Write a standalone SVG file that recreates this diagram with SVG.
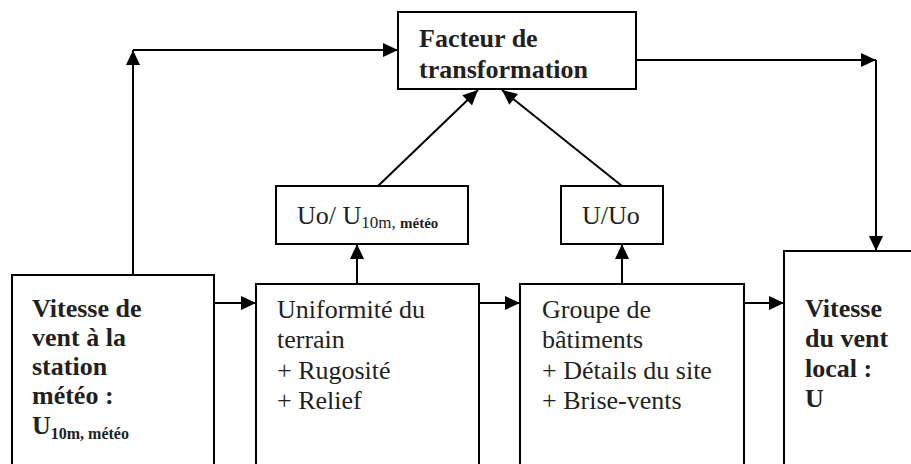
<svg xmlns="http://www.w3.org/2000/svg" width="911" height="464" viewBox="0 0 911 464">
<style>
.box{fill:#fff;stroke:#000;stroke-width:2}
.t{font-family:'Liberation Serif','Times New Roman',Times,'DejaVu Serif',serif;font-size:26px;fill:#231f20}
.b{font-weight:bold}
.c{fill:none;stroke:#000;stroke-width:2}
</style>
<defs>
<marker id="ah" viewBox="0 0 15 14" refX="15" refY="7" markerWidth="15" markerHeight="14" markerUnits="userSpaceOnUse" orient="auto">
<path d="M0,0 L15,7 L0,14 Z" fill="#000"/>
</marker>
</defs>
<g id="node-station">
<rect class="box" x="12" y="275" width="202" height="200"/>
<text class="t b" font-family="Liberation Serif, serif"><tspan x="32" y="317">Vitesse de</tspan><tspan x="32" y="346">vent à la</tspan><tspan x="32" y="375">station</tspan><tspan x="32" y="404">météo :</tspan><tspan x="32" y="434">U</tspan><tspan dy="5" font-size="16">10m, météo</tspan></text>
</g>
<g id="node-terrain">
<rect class="box" x="256" y="284" width="223" height="190"/>
<text class="t" font-family="Liberation Serif, serif"><tspan x="277" y="318">Uniformité du</tspan><tspan x="277" y="348">terrain</tspan><tspan x="277" y="379">+ Rugosité</tspan><tspan x="277" y="409">+ Relief</tspan></text>
</g>
<g id="node-batiments">
<rect class="box" x="520" y="284" width="224" height="190"/>
<text class="t" font-family="Liberation Serif, serif"><tspan x="542" y="318">Groupe de</tspan><tspan x="542" y="348">bâtiments</tspan><tspan x="542" y="379">+ Détails du site</tspan><tspan x="542" y="409">+ Brise-vents</tspan></text>
</g>
<g id="node-local">
<rect class="box" x="784" y="251" width="140" height="230"/>
<text class="t b" font-family="Liberation Serif, serif"><tspan x="805" y="317">Vitesse</tspan><tspan x="805" y="347">du vent</tspan><tspan x="805" y="377">local :</tspan><tspan x="805" y="407">U</tspan></text>
</g>
<g id="node-uo">
<rect class="box" x="276" y="186" width="192" height="58"/>
<text class="t" font-family="Liberation Serif, serif" x="297" y="224">Uo/ U<tspan dy="4" font-size="17">10m, </tspan><tspan class="b" font-size="15">météo</tspan></text>
</g>
<g id="node-uuo">
<rect class="box" x="561" y="186" width="102" height="58"/>
<text class="t" font-family="Liberation Serif, serif" x="582" y="224">U/Uo</text>
</g>
<g id="node-facteur">
<rect class="box" x="398" y="12" width="238" height="77"/>
<text class="t b" font-family="Liberation Serif, serif"><tspan x="419" y="47">Facteur de</tspan><tspan x="419" y="78">transformation</tspan></text>
</g>
<g id="connectors">
<path class="c" d="M133,275 V50" marker-end="url(#ah)"/>
<path class="c" d="M133,50 H398" marker-end="url(#ah)"/>
<path class="c" d="M636,60 H876" marker-end="url(#ah)"/>
<path class="c" d="M876,60 V251" marker-end="url(#ah)"/>
<path class="c" d="M214,303 H256" marker-end="url(#ah)"/>
<path class="c" d="M479,303 H520" marker-end="url(#ah)"/>
<path class="c" d="M744,303 H784" marker-end="url(#ah)"/>
<path class="c" d="M357,284 V244" marker-end="url(#ah)"/>
<path class="c" d="M622,284 V244" marker-end="url(#ah)"/>
<path class="c" d="M378,186 L478,90" marker-end="url(#ah)"/>
<path class="c" d="M622,186 L502,90" marker-end="url(#ah)"/>
</g>
</svg>
